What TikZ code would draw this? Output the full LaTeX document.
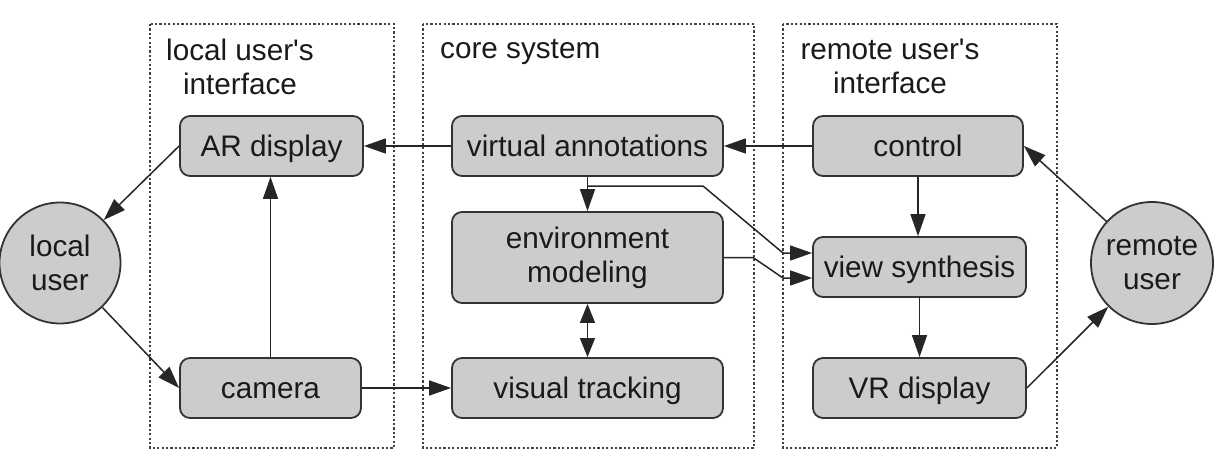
\documentclass[tikz,border=0pt]{standalone}
\usepackage{fontspec}
\setmainfont{Liberation Sans}
\usetikzlibrary{arrows.meta}
\definecolor{boxfill}{HTML}{CCCCCC}
\definecolor{edgecol}{HTML}{333333}
\definecolor{txt}{HTML}{1A1A1A}
\begin{document}
\begin{tikzpicture}[x=1pt,y=-1pt,
  lbl/.style={font=\fontsize{29.7}{34}\selectfont, text=txt},
  box/.style={lbl, draw=edgecol, line width=1.8pt, fill=boxfill, rounded corners=10pt, inner sep=0pt, align=center},
  onebox/.style={box, text height=22pt, text depth=2pt},
  user/.style={lbl, circle, draw=edgecol, line width=1.8pt, fill=boxfill, inner sep=0pt, align=center},
  group/.style={draw=black!75, line width=1.2pt, dash pattern=on 2.2pt off 2.2pt},
  arr/.style={-{Triangle[length=22pt,width=15pt]}, line width=1.5pt, draw=black!85},
  darr/.style={{Triangle[length=19pt,width=15pt]}-{Triangle[length=19pt,width=15pt]}, line width=1.5pt, draw=black!85},
  title/.style={lbl, align=center, inner sep=0pt, anchor=north}]
\useasboundingbox (0,0) rectangle (1228,461);
% groups
\draw[group] (150,24) rectangle (394,448);
\draw[group] (423,24) rectangle (754,448);
\draw[group] (783,24) rectangle (1057,448);
\node[title] (tl) at (240,39) {local user\textquotesingle s\\interface};
\node[title, anchor=north west] (tc) at (440,39) {core system};
\node[title] (tr) at (890,39) {remote user\textquotesingle s\\interface};
% nodes
\node[onebox, minimum width=183pt, minimum height=60pt] (ar) at (271.5,146) {AR display};
\node[onebox, minimum width=181pt, minimum height=60pt] (cam) at (270.5,388) {camera};
\node[onebox, minimum width=271pt, minimum height=60pt] (va) at (587.5,146) {virtual annotations};
\node[box, minimum width=271pt, minimum height=91pt] (env) at (587.5,257.5) {environment\\modeling};
\node[onebox, minimum width=271pt, minimum height=60pt] (vt) at (587.5,388) {visual tracking};
\node[onebox, minimum width=210pt, minimum height=60pt] (ctrl) at (918,146) {control};
\node[onebox, minimum width=213pt, minimum height=60pt] (vs) at (919.5,267) {view synthesis};
\node[onebox, minimum width=213pt, minimum height=60pt] (vr) at (919.5,388) {VR display};
\node[user, minimum size=121pt] (lu) at (60,263) {local\\user};
\node[user, minimum size=122pt] (ru) at (1152,263) {remote\\user};
% helper coordinates
\coordinate (b1) at (588,186);
\coordinate (b2) at (703,186);
\coordinate (b3) at (783,253);
\coordinate (e1) at (753,257.5);
\coordinate (e2) at (783,278);
% connectors
\draw[arr] (va.west) -- (ar.east);
\draw[arr] (ctrl.west) -- (va.east);
\draw[arr] (ar.west) -- (lu);
\draw[arr] (lu) -- (cam.west);
\draw[arr] (cam.north) -- (cam.north |- ar.south);
\draw[arr] (cam.east) -- (vt.west);
\draw[arr] (va.south) -- (env.north);
\draw[arr] (b1) -- (b2) -- (b3) -- (vs.west |- b3);
\draw[arr] (env.east) -- (e1) -- (e2) -- (vs.west |- e2);
\draw[darr] (env.south) -- (vt.north);
\draw[arr] (ctrl.south) -- (ctrl.south |- vs.north);
\draw[arr] (vs.south) -- (vr.north);
\draw[arr] (vr.east) -- (ru);
\draw[arr] (ru) -- (ctrl.east);
\end{tikzpicture}
\end{document}
